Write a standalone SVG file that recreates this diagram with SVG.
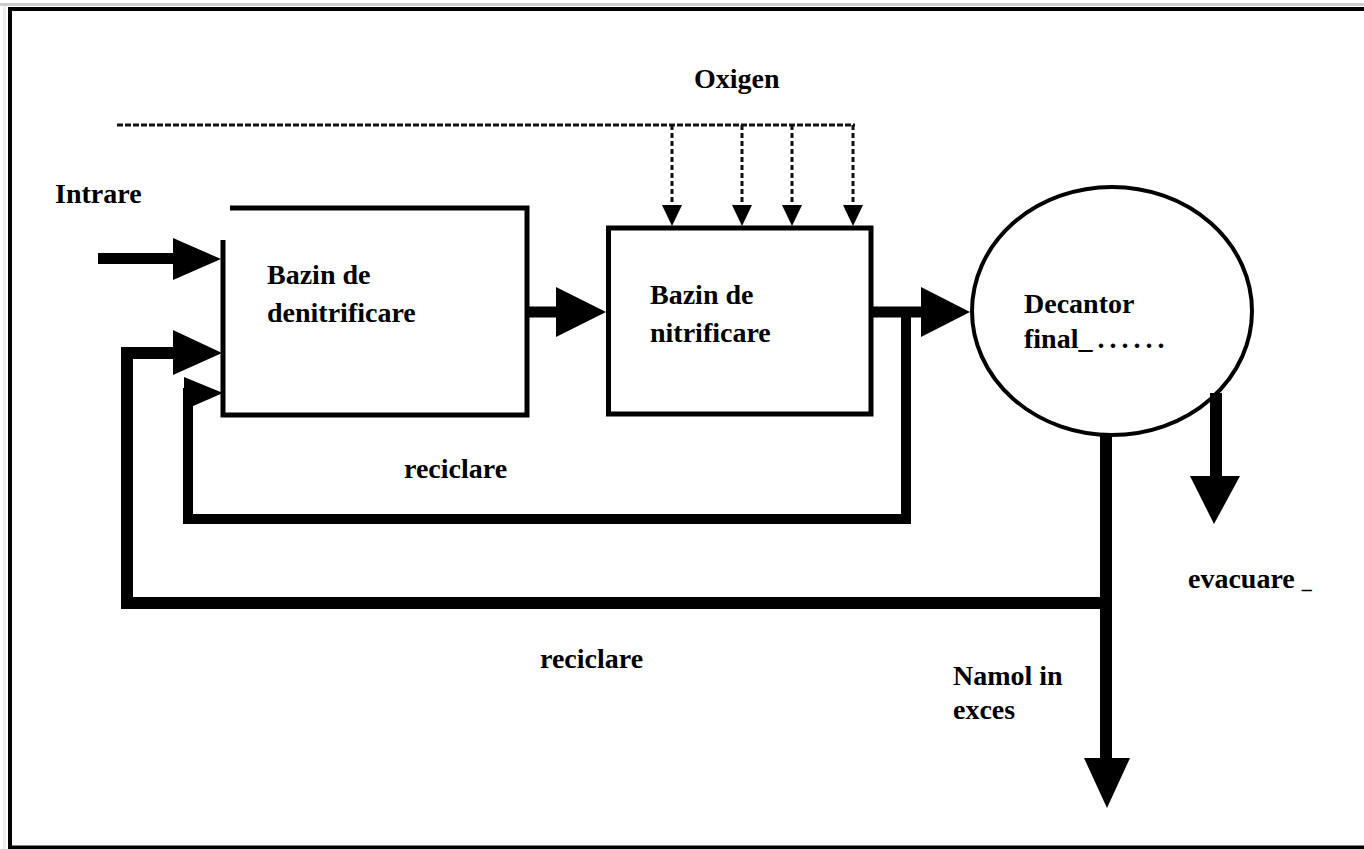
<svg xmlns="http://www.w3.org/2000/svg" width="1364" height="849" viewBox="0 0 1364 849">
<style>
.lbl{font-family:"Liberation Serif","Times New Roman",serif;font-size:28px;font-weight:bold;fill:#000}
.box{fill:none;stroke:#000;stroke-width:5}
.flow{fill:none;stroke:#000;stroke-width:11;stroke-linejoin:miter;stroke-linecap:butt}
.oxy{fill:none;stroke:#111;stroke-width:3;stroke-dasharray:6 2}
.oxv{fill:none;stroke:#111;stroke-width:3;stroke-dasharray:5 3}
.head{fill:#000;stroke:none}
</style>
<rect x="0" y="0" width="1364" height="849" fill="#fff"/>
<g id="frame">
<line x1="0" y1="4.5" x2="1364" y2="4.5" stroke="#ccc" stroke-width="3"/>
<line x1="4.5" y1="6" x2="4.5" y2="849" stroke="#eee" stroke-width="3"/>
<path d="M1364 9 H10 V849" fill="none" stroke="#000" stroke-width="4"/>
<line x1="8" y1="847.5" x2="1364" y2="847.5" stroke="#000" stroke-width="4"/>
</g>
<g id="oxigen">
<text class="lbl" x="694" y="88">Oxigen</text>
</g>
<g id="intrare">
<text class="lbl" x="55" y="203">Intrare</text>
</g>
<g id="denitrificare">
<path class="box" d="M230 208 H527 V415 H223 V240"/>
<text class="lbl" x="267" y="284">Bazin de</text>
<text class="lbl" x="267" y="322">denitrificare</text>
</g>
<g id="nitrificare">
<rect class="box" x="608.5" y="228" width="262.5" height="186"/>
<text class="lbl" x="650" y="304">Bazin de</text>
<text class="lbl" x="650" y="342">nitrificare</text>
</g>
<g id="decantor">
<ellipse cx="1112" cy="311" rx="140" ry="124" fill="none" stroke="#000" stroke-width="4"/>
<text class="lbl" x="1024" y="313">Decantor</text>
<text class="lbl" x="1024" y="348">final<tspan letter-spacing="5">_......</tspan></text>
</g>
<g id="connectors">
<path class="oxy" d="M117 125 H855"/>
<path class="oxv" d="M672 125 V207 M742 125 V207 M792 125 V207 M853 125 V207"/>
<polygon class="head" points="662,205 682,205 672,226"/>
<polygon class="head" points="732,205 752,205 742,226"/>
<polygon class="head" points="782,205 802,205 792,226"/>
<polygon class="head" points="843,205 863,205 853,226"/>
<path class="flow" d="M98 258.5 H178"/>
<polygon class="head" points="173,238 173,280 221,259"/>
<path class="flow" d="M527 312 H560"/>
<polygon class="head" points="556,287 556,337 606,312"/>
<path class="flow" d="M871 312 H925"/>
<polygon class="head" points="921,287 921,337 970,312"/>
<path class="flow" d="M906 312 V519 H188 V393 H190" style="stroke-width:10"/>
<polygon class="head" points="184,377 184,410 223,393"/>
<path class="flow" d="M1106 435 V603 H127 V353 H178" style="stroke-width:12"/>
<polygon class="head" points="173,330 173,375 222,353"/>
<path class="flow" d="M1106 600 V762" style="stroke-width:12"/>
<polygon class="head" points="1084,758 1130,758 1107,808"/>
<path class="flow" d="M1216 393 V480" style="stroke-width:12"/>
<polygon class="head" points="1190,476 1240,476 1214,524"/>
</g>
<g id="labels">
<text class="lbl" x="404" y="478">reciclare</text>
<text class="lbl" x="540" y="668">reciclare</text>
<text class="lbl" x="953" y="685">Namol in</text>
<text class="lbl" x="953" y="719">exces</text>
<text class="lbl" x="1188" y="588">evacuare <tspan font-size="20">_</tspan></text>
</g>
</svg>
